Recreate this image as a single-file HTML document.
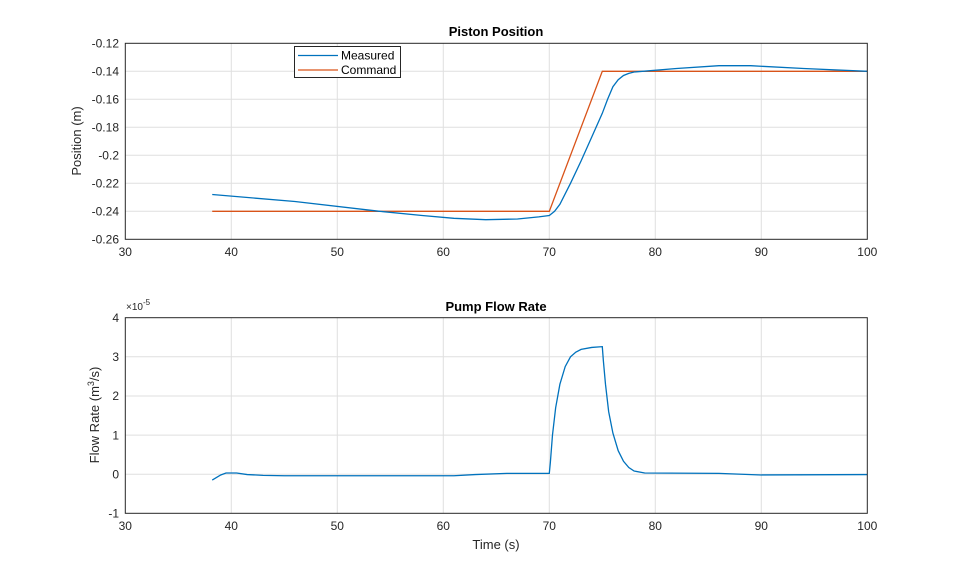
<!DOCTYPE html><html><head><style>body{margin:0;background:#fff}svg{font-family:"Liberation Sans",sans-serif}</style></head><body>
<svg width="959" height="577" xmlns="http://www.w3.org/2000/svg">
<rect width="959" height="577" fill="#fff"/>
<g stroke="#dfdfdf" stroke-width="1">
<line x1="231.3" y1="43.3" x2="231.3" y2="239.3"/><line x1="337.3" y1="43.3" x2="337.3" y2="239.3"/><line x1="443.3" y1="43.3" x2="443.3" y2="239.3"/><line x1="549.3" y1="43.3" x2="549.3" y2="239.3"/><line x1="655.3" y1="43.3" x2="655.3" y2="239.3"/><line x1="761.3" y1="43.3" x2="761.3" y2="239.3"/>
<line x1="125.3" y1="71.3" x2="867.3" y2="71.3"/><line x1="125.3" y1="99.3" x2="867.3" y2="99.3"/><line x1="125.3" y1="127.3" x2="867.3" y2="127.3"/><line x1="125.3" y1="155.3" x2="867.3" y2="155.3"/><line x1="125.3" y1="183.3" x2="867.3" y2="183.3"/><line x1="125.3" y1="211.3" x2="867.3" y2="211.3"/>
<line x1="231.3" y1="317.7" x2="231.3" y2="513.3"/><line x1="337.3" y1="317.7" x2="337.3" y2="513.3"/><line x1="443.3" y1="317.7" x2="443.3" y2="513.3"/><line x1="549.3" y1="317.7" x2="549.3" y2="513.3"/><line x1="655.3" y1="317.7" x2="655.3" y2="513.3"/><line x1="761.3" y1="317.7" x2="761.3" y2="513.3"/>
<line x1="125.3" y1="356.8" x2="867.3" y2="356.8"/><line x1="125.3" y1="396" x2="867.3" y2="396"/><line x1="125.3" y1="435.1" x2="867.3" y2="435.1"/><line x1="125.3" y1="474.2" x2="867.3" y2="474.2"/>
</g>
<g transform="translate(125.3,43.3) scale(10.6,-1400) translate(-30,0.12)" fill="none">
<polyline vector-effect="non-scaling-stroke" stroke="#d95319" stroke-width="1.3" points="38.2,-0.24 70,-0.24 75,-0.14 100,-0.14"/>
<polyline vector-effect="non-scaling-stroke" stroke="#0072bd" stroke-width="1.3" points="38.2,-0.228 46,-0.233 54,-0.24 58,-0.243 61,-0.245 64,-0.246 67,-0.2455 69,-0.244 70,-0.243 70.5,-0.240 71,-0.235 72,-0.220 73,-0.204 74,-0.187 75,-0.170 75.5,-0.160 76,-0.151 76.5,-0.146 77,-0.143 77.5,-0.1415 78,-0.1405 82,-0.138 86,-0.136 89,-0.136 94,-0.138 100,-0.14"/>
</g>
<g transform="translate(125.3,317.7) scale(10.6,-39.12) translate(-30,-4)" fill="none">
<polyline vector-effect="non-scaling-stroke" stroke="#0072bd" stroke-width="1.3" points="38.2,-0.15 39,-0.02 39.5,0.03 40.5,0.03 41.5,-0.01 43,-0.03 45,-0.04 61,-0.04 63,-0.01 66,0.02 70,0.02 70.1,0.3 70.3,1.0 70.6,1.7 71,2.3 71.5,2.75 72,3.0 72.5,3.12 73,3.19 74,3.24 75,3.26 75.1,2.9 75.3,2.3 75.6,1.6 76,1.05 76.5,0.6 77,0.33 77.5,0.17 78,0.08 79,0.03 86,0.02 90,-0.02 100,-0.01"/>
</g>
<g fill="none" stroke="#262626" stroke-width="1">
<rect x="125.3" y="43.3" width="742" height="196"/>
<rect x="125.3" y="317.7" width="742" height="195.6"/>
</g>
<g font-size="12" fill="#262626" text-anchor="end">
<text x="119" y="47.5">-0.12</text><text x="119" y="75.5">-0.14</text><text x="119" y="103.5">-0.16</text><text x="119" y="131.5">-0.18</text><text x="119" y="159.5">-0.2</text><text x="119" y="187.5">-0.22</text><text x="119" y="215.5">-0.24</text><text x="119" y="243.5">-0.26</text>
<text x="119" y="321.9">4</text><text x="119" y="361">3</text><text x="119" y="400.2">2</text><text x="119" y="439.3">1</text><text x="119" y="478.4">0</text><text x="119" y="517.5">-1</text>
</g>
<g font-size="12" fill="#262626" text-anchor="middle">
<text x="125.3" y="256">30</text><text x="231.3" y="256">40</text><text x="337.3" y="256">50</text><text x="443.3" y="256">60</text><text x="549.3" y="256">70</text><text x="655.3" y="256">80</text><text x="761.3" y="256">90</text><text x="867.3" y="256">100</text>
<text x="125.3" y="530">30</text><text x="231.3" y="530">40</text><text x="337.3" y="530">50</text><text x="443.3" y="530">60</text><text x="549.3" y="530">70</text><text x="655.3" y="530">80</text><text x="761.3" y="530">90</text><text x="867.3" y="530">100</text>
<text x="496" y="36" font-weight="bold" font-size="13" fill="#000">Piston Position</text>
<text x="496" y="311" font-weight="bold" font-size="13" fill="#000">Pump Flow Rate</text>
<text x="496" y="549" font-size="13">Time (s)</text>
<text transform="translate(81,141) rotate(-90)" font-size="13">Position (m)</text>
<text transform="translate(99,415) rotate(-90)" font-size="13">Flow  Rate  (m<tspan font-size="9" dy="-5">3</tspan><tspan dy="5">/s)</tspan></text>
</g>
<text x="126" y="310" font-size="10" fill="#262626">×10<tspan font-size="8" dy="-5">-5</tspan></text>
<rect x="294.5" y="46.5" width="106" height="31" fill="#fff" stroke="#262626"/>
<line x1="298" y1="55.5" x2="338" y2="55.5" stroke="#0072bd" stroke-width="1.3"/>
<line x1="298" y1="70" x2="338" y2="70" stroke="#d95319" stroke-width="1.3"/>
<text x="341" y="59.5" font-size="12" fill="#000">Measured</text>
<text x="341" y="74" font-size="12" fill="#000">Command</text>
</svg></body></html>
